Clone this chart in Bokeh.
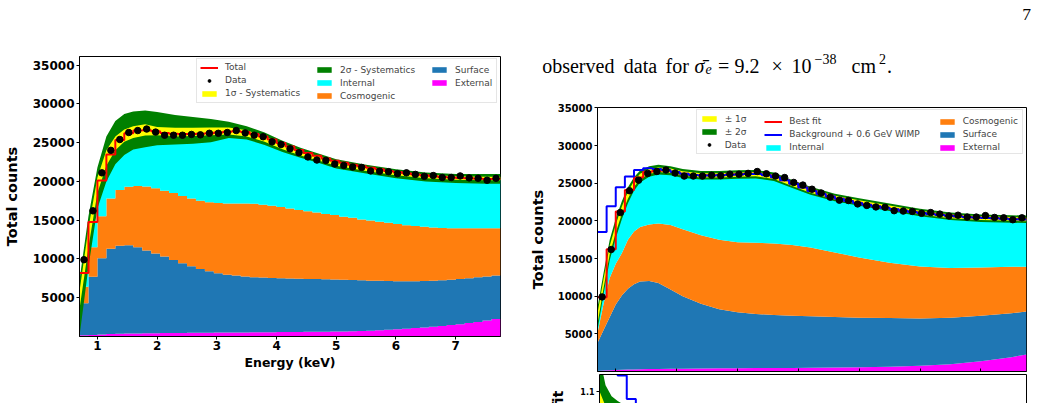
import numpy as np
from bokeh.plotting import figure
from bokeh.layouts import row, column
from bokeh.models import (Legend, LegendItem, Label, FixedTicker, LinearAxis, Range1d,
                          CustomLabelingPolicy)
from bokeh.embed import file_html
from bokeh.resources import INLINE

SANS = "DejaVu Sans"
SERIF = "Liberation Serif"

# ---------------- binning (keV) ----------------
bin_edges = [0.70, 0.85, 1.00, 1.15, 1.30, 1.45, 1.60, 1.75, 1.90, 2.05,
             2.20, 2.35, 2.50, 2.65, 2.80, 2.95, 3.10, 3.25, 3.40, 3.55,
             3.70, 3.85, 4.00, 4.15, 4.30, 4.45, 4.60, 4.75, 4.90, 5.05,
             5.20, 5.35, 5.50, 5.65, 5.80, 5.95, 6.10, 6.25, 6.40, 6.55,
             6.70, 6.85, 7.00, 7.15, 7.30, 7.45, 7.60, 7.75]

# observed counts per bin
observed = [9900, 16200, 21100, 24000, 25400, 26300, 26550, 26750, 26350, 25950,
            25950, 25950, 26050, 26000, 26200, 26200, 26300, 26550, 26250, 25950,
            25750, 25100, 24750, 24200, 23700, 23150, 22750, 22700, 22250, 22050,
            21850, 21800, 21350, 21300, 21250, 21000, 21100, 20900, 20650, 20750,
            20500, 20500, 20700, 20450, 20400, 20150, 20400]

# background model components per bin (left panel)
external_counts = [150, 200, 260, 310, 350, 380, 400, 420, 430, 440,
                   450, 460, 470, 480, 490, 500, 510, 520, 530, 540,
                   550, 560, 570, 580, 590, 600, 610, 620, 640, 660,
                   680, 710, 750, 800, 860, 930, 1000, 1080, 1170, 1260,
                   1360, 1470, 1590, 1730, 1880, 2050, 2250]
surface_counts = [4150, 7500, 9840, 10990, 11350, 11370, 11100, 10680, 10270, 9860,
                  9400, 8990, 8580, 8220, 7910, 7650, 7440, 7330, 7220, 7110,
                  7050, 6990, 6930, 6900, 6860, 6820, 6790, 6760, 6710, 6660,
                  6600, 6540, 6450, 6380, 6290, 6200, 6120, 6040, 5980, 5940,
                  5890, 5850, 5810, 5770, 5770, 5700, 5600]
cosmogenic_counts = [2100, 3800, 5400, 6500, 7200, 7550, 7900, 8250, 8400, 8500,
                     8650, 8650, 8750, 8800, 8900, 9050, 9200, 9300, 9400, 9450,
                     9400, 9300, 9200, 9020, 8850, 8730, 8600, 8420, 8300, 8130,
                     8020, 7850, 7750, 7620, 7500, 7370, 7230, 7130, 7000, 6850,
                     6750, 6630, 6550, 6450, 6300, 6200, 6100]
internal_counts = [1800, 3250, 4600, 5650, 6450, 6900, 7150, 7250, 7350, 7450,
                   7650, 8000, 8300, 8650, 8900, 9100, 9250, 9300, 9200, 9000,
                   8800, 8550, 8250, 8000, 7750, 7500, 7300, 7150, 7000, 6950,
                   6850, 6850, 6800, 6750, 6700, 6700, 6700, 6650, 6650, 6600,
                   6550, 6550, 6500, 6450, 6400, 6350, 6350]

# systematic bands (left panel)
band_energy = [0.70, 0.85, 1.00, 1.15, 1.30, 1.45, 1.60, 1.80, 2.00, 2.30, 2.60, 2.90, 3.20,
               3.50, 3.80, 4.10, 4.40, 4.70, 5.00, 5.50, 6.00, 6.50, 7.00, 7.50, 7.75]
sys2_upper = [7300, 15500, 21800, 25800, 27800, 28700, 29000, 29150, 28950, 28550, 28300, 28050, 27700,
              27100, 26300, 25250, 24350, 23600, 22850, 22150, 21550, 21150, 20950, 20950, 20950]
sys1_upper = [5800, 14000, 20500, 24000, 25800, 26700, 27100, 27350, 27000, 26900, 26900, 26950, 26950,
              26600, 25800, 24800, 23950, 23250, 22450, 21800, 21250, 20850, 20650, 20600, 20600]
sys1_lower = [3500, 11500, 18500, 22000, 24000, 25100, 25600, 25900, 25950, 25800, 25850, 25950, 26050,
              25800, 25100, 24150, 23350, 22700, 22000, 21350, 20800, 20400, 20200, 20150, 20150]
sys2_lower = [0, 9000, 16500, 20000, 22200, 23400, 24100, 24400, 24650, 24750, 24850, 25050, 25600,
              25400, 24700, 23800, 23050, 22400, 21650, 21000, 20400, 20000, 19800, 19700, 19700]

# fitted components (right panel)
fit_energy = [0.70, 0.80, 0.90, 1.00, 1.10, 1.20, 1.30, 1.40, 1.55, 1.70, 1.90, 2.10, 2.40, 2.70,
              3.00, 3.30, 3.60, 3.90, 4.20, 4.60, 5.00, 5.50, 6.00, 6.50, 7.00, 7.50, 7.75]
fit_external = [80, 120, 160, 200, 230, 260, 280, 300, 320, 340, 360, 380, 400, 420,
                440, 460, 470, 480, 500, 520, 550, 620, 750, 950, 1350, 1900, 2250]
fit_surface = [3720, 5380, 7040, 8700, 9870, 10740, 11320, 11650, 11680, 11410, 10540, 9620, 8600, 7830,
               7410, 7190, 7030, 6920, 6820, 6730, 6600, 6480, 6300, 6200, 6050, 5850, 5700]
fit_cosmogenic = [1300, 3500, 5200, 5400, 5600, 6500, 7000, 7250, 7500, 7900, 8550, 8900, 9100, 9250,
                  9300, 9450, 9500, 9400, 9130, 8550, 8000, 7350, 6900, 6600, 6400, 6150, 5950]
fit_internal = [1900, 2700, 3700, 4700, 5700, 5900, 6300, 6700, 7050, 7150, 7200, 7400, 7950, 8550,
                9000, 9100, 8850, 8100, 7550, 7300, 7350, 7350, 7150, 6850, 6550, 6350, 6300]
fit_sigma1 = [700, 600, 560, 530, 500, 450, 400, 350, 320, 300, 300, 300, 280, 280,
              280, 280, 280, 270, 260, 250, 250, 250, 250, 250, 250, 250, 250]
fit_sigma2 = [1500, 1400, 1350, 1300, 1200, 1050, 900, 800, 700, 650, 600, 600, 560, 560,
              560, 560, 560, 540, 520, 500, 500, 500, 500, 500, 500, 500, 500]

# binned best fit and background + 0.6 GeV WIMP prediction
best_fit = [9850, 16220, 21230, 24090, 25760, 26510, 26640, 26700, 26500, 26250,
            26100, 26050, 26050, 26100, 26150, 26200, 26250, 26250, 26100, 25800,
            25400, 24950, 24450, 24000, 23600, 23250, 22950, 22650, 22400, 22150,
            21950, 21750, 21550, 21350, 21200, 21050, 20900, 20800, 20700, 20600,
            20500, 20450, 20400, 20350, 20300, 20250, 20200]
background_wimp = [18530, 21950, 24450, 25900, 26750, 27000, 26900, 26750, 26500, 26250,
                   26080, 26030, 26020, 26070, 26120, 26170, 26220, 26220, 26070, 25780,
                   25380, 24930, 24430, 23980, 23580, 23230, 22930, 22630, 22380, 22130,
                   21930, 21730, 21530, 21330, 21180, 21030, 20880, 20780, 20680, 20580,
                   20480, 20430, 20380, 20330, 20280, 20230, 20180]

energy_ticks = [1, 2, 3, 4, 5, 6, 7]
count_ticks = [5000, 10000, 15000, 20000, 25000, 30000, 35000]
ratio_ticks = [0.9, 1.0, 1.1]

C_EXT, C_SURF, C_COSMO, C_INT = "#ff00ff", "#1f77b4", "#ff7f0e", "#00ffff"
C_2S, C_1S = "#008000", "#ffff00"

edges = np.array(bin_edges)
centers = 0.5 * (edges[:-1] + edges[1:])


def padded(a):
    a = np.asarray(a, dtype=float)
    return np.append(a, a[-1])


def base_figure(width, height, y_range, borders, **kw):
    p = figure(width=width, height=height, x_range=Range1d(0.7, 7.75), y_range=y_range,
               output_backend="svg", toolbar_location=None, **kw)
    p.min_border_left, p.min_border_right, p.min_border_top, p.min_border_bottom = borders
    p.outline_line_color = "black"
    p.outline_line_alpha = 1
    p.xgrid.visible = False
    p.ygrid.visible = False
    p.border_fill_color = "white"
    return p


def text_canvas(width, height):
    """Blank figure whose frame fills the canvas; used to hold free text."""
    p = figure(width=width, height=height, x_range=Range1d(0, 1), y_range=Range1d(0, 1),
               output_backend="svg", toolbar_location=None,
               x_axis_location=None, y_axis_location=None)
    p.min_border_left = p.min_border_right = p.min_border_top = p.min_border_bottom = 0
    p.outline_line_color = None
    p.xgrid.visible = False
    p.ygrid.visible = False
    return p


def style_axis(ax, ticks, tick_size, label_size="14.5px"):
    ax.ticker = FixedTicker(ticks=ticks)
    ax.major_label_text_font = SANS
    ax.major_label_text_font_style = "bold"
    ax.major_label_text_font_size = tick_size
    ax.major_label_text_color = "black"
    ax.axis_line_color = "black"
    ax.major_tick_line_color = "black"
    ax.major_tick_out = 3
    ax.major_tick_in = 0
    ax.minor_tick_line_color = None
    ax.axis_label_text_font = SANS
    ax.axis_label_text_font_style = "bold"
    ax.axis_label_text_color = "black"
    ax.axis_label_text_font_size = label_size


def add_legend(p, items, loc, boxed, label_width=0):
    lg = Legend(items=items, location=loc, orientation="vertical",
                padding=3 if boxed else 0, margin=0, spacing=2,
                glyph_width=18, glyph_height=7, label_standoff=7,
                label_height=11, label_width=label_width,
                label_text_font=SANS, label_text_font_size="9px",
                background_fill_color="white",
                background_fill_alpha=0.8 if boxed else 0,
                border_line_color="#cccccc" if boxed else None)
    p.add_layout(lg)


# ================= left panel: background model with systematics =================
left = base_figure(520, 403, Range1d(0, 36100), (79, 20, 56, 67))
style_axis(left.xaxis[0], energy_ticks, "12px", "12.5px")
style_axis(left.yaxis[0], count_ticks, "12px")
left.xaxis.axis_label = "Energy (keV)"
left.xaxis.major_label_standoff = 1
left.xaxis.axis_label_standoff = 2
left.yaxis.axis_label = "Total counts"
left.yaxis.major_label_standoff = 2
left.yaxis.axis_label_standoff = 10

lv0 = np.zeros(len(observed))
lv1 = lv0 + np.array(external_counts)
lv2 = lv1 + np.array(surface_counts)
lv3 = lv2 + np.array(cosmogenic_counts)
lv4 = lv3 + np.array(internal_counts)

r_ext = left.varea_step(x=edges, y1=padded(lv0), y2=padded(lv1), step_mode="after", fill_color=C_EXT)
r_surf = left.varea_step(x=edges, y1=padded(lv1), y2=padded(lv2), step_mode="after", fill_color=C_SURF)
r_cos = left.varea_step(x=edges, y1=padded(lv2), y2=padded(lv3), step_mode="after", fill_color=C_COSMO)
r_int = left.varea_step(x=edges, y1=padded(lv3), y2=padded(lv4), step_mode="after", fill_color=C_INT)
r_2s = left.varea(x=band_energy, y1=sys2_lower, y2=sys2_upper, fill_color=C_2S)
r_1s = left.varea(x=band_energy, y1=sys1_lower, y2=sys1_upper, fill_color=C_1S)
r_tot = left.step(x=edges, y=padded(lv4), mode="after", line_color="red", line_width=2)
r_dat = left.scatter(x=centers, y=observed, size=6.5, fill_color="black", line_color="black")

add_legend(left, [LegendItem(label="Total", renderers=[r_tot]),
                  LegendItem(label="Data", renderers=[r_dat]),
                  LegendItem(label="1σ - Systematics", renderers=[r_1s])],
           (117, 233.3), True, label_width=268)
add_legend(left, [LegendItem(label="2σ - Systematics", renderers=[r_2s]),
                  LegendItem(label="Internal", renderers=[r_int]),
                  LegendItem(label="Cosmogenic", renderers=[r_cos])],
           (236, 235), False)
add_legend(left, [LegendItem(label="Surface", renderers=[r_surf]),
                  LegendItem(label="External", renderers=[r_ext])],
           (351, 235 + 13), False)

# ================= running text above the right panel, and the page number =================
header = text_canvas(517, 100)
text_runs = [
    ("observed", 21.7, 35.0, "20px", "normal"),
    ("data", 103.3, 35.0, "20px", "normal"),
    ("for", 145.0, 35.0, "20px", "normal"),
    ("σ̄", 174.0, 35.0, "20px", "italic"),
    ("e", 185.0, 31.7, "14px", "italic"),
    ("=", 197.5, 35.0, "20px", "normal"),
    ("9.2", 214.0, 35.0, "20px", "normal"),
    ("×", 251.0, 35.0, "20px", "normal"),
    ("10", 271.0, 35.0, "20px", "normal"),
    ("−38", 294.0, 41.7, "14px", "normal"),
    ("cm", 331.0, 35.0, "20px", "normal"),
    ("2", 358.5, 41.7, "14px", "normal"),
    (".", 366.5, 35.0, "20px", "normal"),
    ("7", 501.7, 86.0, "17.5px", "normal"),
]
for txt, sx, sy, size, style in text_runs:
    header.add_layout(Label(x=sx, y=sy, x_units="screen", y_units="screen", text=txt,
                            text_font=SERIF, text_font_size=size, text_font_style=style,
                            text_color="black", text_align="left", text_baseline="alphabetic"))

# ================= right panel: best fit =================
right = base_figure(517, 272, Range1d(0, 35050), (77, 11, 7, 1))
style_axis(right.xaxis[0], energy_ticks, "0px")
right.xaxis.major_tick_out = 0
right.xaxis.major_tick_in = 3
right.xaxis.major_label_standoff = 0
right.xaxis.major_label_policy = CustomLabelingPolicy(code="return []")
style_axis(right.yaxis[0], count_ticks, "10px")
right.yaxis.axis_label = "Total counts"
right.yaxis.major_label_standoff = 2
right.yaxis.axis_label_standoff = 9

fv0 = np.zeros(len(fit_energy))
fv1 = fv0 + np.array(fit_external)
fv2 = fv1 + np.array(fit_surface)
fv3 = fv2 + np.array(fit_cosmogenic)
fv4 = fv3 + np.array(fit_internal)
s1 = np.array(fit_sigma1)
s2 = np.array(fit_sigma2)

q_ext = right.varea(x=fit_energy, y1=fv0, y2=fv1, fill_color=C_EXT)
q_surf = right.varea(x=fit_energy, y1=fv1, y2=fv2, fill_color=C_SURF)
q_cos = right.varea(x=fit_energy, y1=fv2, y2=fv3, fill_color=C_COSMO)
q_int = right.varea(x=fit_energy, y1=fv3, y2=fv4, fill_color=C_INT)
q_2s = right.varea(x=fit_energy, y1=fv4 - s2, y2=fv4 + s2, fill_color=C_2S)
q_1s = right.varea(x=fit_energy, y1=fv4 - s1, y2=fv4 + s1, fill_color=C_1S)
q_fit = right.step(x=edges, y=padded(best_fit), mode="after", line_color="red", line_width=2)
q_wimp = right.step(x=edges, y=padded(background_wimp), mode="after", line_color="blue", line_width=2)
q_dat = right.scatter(x=centers, y=observed, size=6.5, fill_color="black", line_color="black")

add_legend(right, [LegendItem(label="± 1σ", renderers=[q_1s]),
                   LegendItem(label="± 2σ", renderers=[q_2s]),
                   LegendItem(label="Data", renderers=[q_dat])],
           (98.7, 217), True, label_width=294)
add_legend(right, [LegendItem(label="Best fit", renderers=[q_fit]),
                   LegendItem(label="Background + 0.6 GeV WIMP", renderers=[q_wimp]),
                   LegendItem(label="Internal", renderers=[q_int])],
           (167.3, 218.3), False)
add_legend(right, [LegendItem(label="Cosmogenic", renderers=[q_cos]),
                   LegendItem(label="Surface", renderers=[q_surf]),
                   LegendItem(label="External", renderers=[q_ext])],
           (340.7, 218.3), False)

# ================= ratio panel below the right panel =================
ratio_label = text_canvas(57, 31)
ratio_label.add_layout(Label(x=37.5, y=13, x_units="screen", y_units="screen", text="Data/Best fit",
                             angle=np.pi / 2, text_align="right", text_baseline="middle",
                             text_font=SANS, text_font_style="bold", text_font_size="14.5px",
                             text_color="black"))

ratio = base_figure(460, 31, Range1d(1.06, 1.155), (20, 11, 2, 0), x_axis_location=None)
ratio.x_range = right.x_range
ratio.outline_line_color = None
style_axis(ratio.yaxis[0], ratio_ticks, "8px")
ratio.yaxis.major_label_standoff = 2
for side in ("above", "right"):
    border_axis = LinearAxis(ticker=FixedTicker(ticks=[]), major_label_text_font_size="0px",
                             major_tick_out=0, major_tick_in=0, minor_tick_out=0, minor_tick_in=0,
                             major_label_standoff=0, axis_line_color="black")
    ratio.add_layout(border_axis, side)

fit_total = fv4
ratio.varea(x=fit_energy, y1=(fit_total - s2) / fit_total, y2=(fit_total + s2) / fit_total, fill_color=C_2S)
ratio.varea(x=fit_energy, y1=(fit_total - s1) / fit_total, y2=(fit_total + s1) / fit_total, fill_color=C_1S)
ratio.step(x=edges, y=padded(np.array(background_wimp) / np.array(best_fit)), mode="after",
           line_color="blue", line_width=2)
ratio.scatter(x=centers, y=np.array(observed) / np.array(best_fit), size=6, fill_color="black", line_color="black")

layout = row(left, column(row(header), right, row(ratio_label, ratio)))
open("out.html", "w").write(file_html(layout, INLINE))
